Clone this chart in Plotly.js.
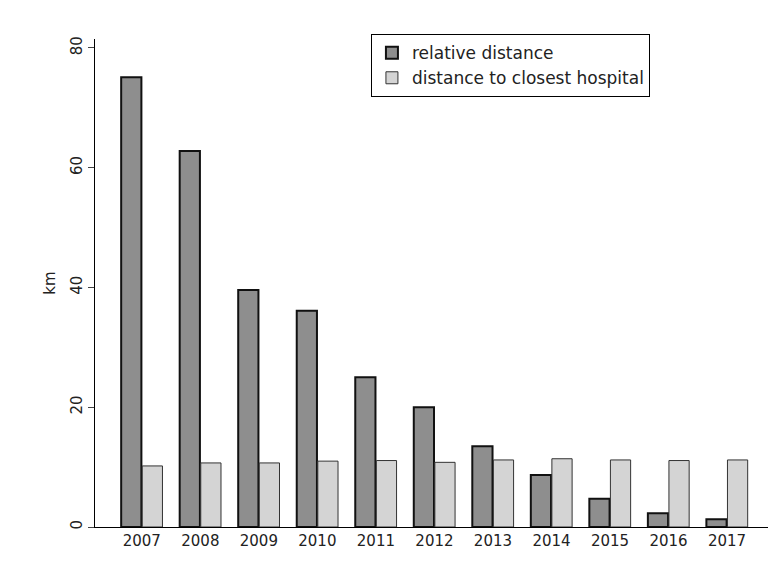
<!DOCTYPE html>
<html><head><script src="https://cdn.plot.ly/plotly-3.0.1.min.js"></script></head>
<body style="margin:0"><div id="plotlyDiv" style="width:782px;height:572px"></div>
<script>
const years = ['2007','2008','2009','2010','2011','2012','2013','2014','2015','2016','2017']
const relativeDistance = [75.1, 62.8, 39.6, 36.1, 25.0, 20.0, 13.5, 8.7, 4.7, 2.3, 1.3]
const closestHospital = [10.2, 10.7, 10.7, 11.0, 11.1, 10.8, 11.2, 11.4, 11.2, 11.1, 11.2]

const data = [
  { x: years, y: relativeDistance, type: 'bar', name: 'relative distance',
    marker: { color: '#8e8e8e', line: { color: '#111', width: 2 } } },
  { x: years, y: closestHospital, type: 'bar', name: 'distance to closest hospital',
    marker: { color: '#d4d4d4', line: { color: '#333', width: 1 } } }
]
const layout = {
  margin: { l: 95, r: 14, t: 39, b: 45 },
  barmode: 'group', bargap: 0.28, bargroupgap: 0.04,
  paper_bgcolor: '#fff', plot_bgcolor: '#fff',
  font: { family: 'DejaVu Sans', size: 15, color: '#222' },
  showlegend: true,
  legend: { x: 0.41, y: 1.01, xanchor: 'left', yanchor: 'top', bordercolor: '#000', borderwidth: 1,
    font: { size: 17 }, bgcolor: '#fff' },
  xaxis: { type: 'category', range: [-0.8, 10.7], showline: true, linecolor: '#000', ticks: '', showgrid: false },
  yaxis: { range: [0, 81.5], tickvals: [0, 20, 40, 60, 80], tickangle: -90, ticks: 'outside', ticklen: 6,
    showline: true, linecolor: '#000', showgrid: false, zeroline: false,
    title: { text: 'km', font: { size: 15 } } }
}
Plotly.newPlot('plotlyDiv', data, layout, { displayModeBar: false })
</script></body></html>
